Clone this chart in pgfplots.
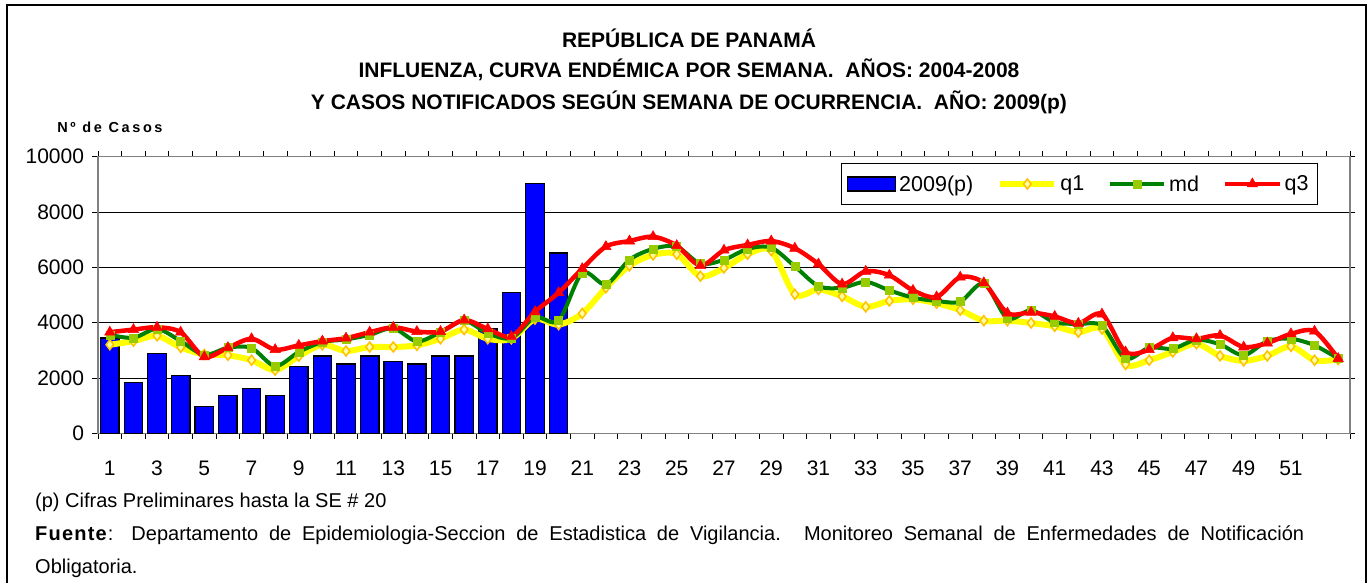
\documentclass[border=0pt]{standalone}
\usepackage{pgfplots}
\pgfplotsset{compat=1.18}
\usepackage{pgfplotstable}
\usepackage{fontspec}
\setmainfont{Liberation Sans}
\definecolor{barblue}{HTML}{0000FF}
\definecolor{q1yel}{HTML}{FFFF00}
\definecolor{q1edge}{HTML}{FFC000}
\definecolor{q1fill}{HTML}{FFFFA0}
\definecolor{mdgreen}{HTML}{008000}
\definecolor{mdmark}{HTML}{99CC00}
\definecolor{q3red}{HTML}{FF0000}
\definecolor{axgrey}{HTML}{808080}

\pgfplotsset{
  barlegend/.style={legend image code/.code={\draw[##1] (0bp,-7bp) rectangle (48bp,7bp);}},
  linelegend/.style={legend image code/.code={\draw[mark repeat=2,mark phase=2,##1] plot coordinates {(0bp,0bp) (27bp,0bp) (54bp,0bp)};}},
}

\pgfplotstableread{
w v
1 3440
2 1845
3 2893
4 2083
5 964
6 1357
7 1607
8 1357
9 2405
10 2798
11 2506
12 2798
13 2590
14 2506
15 2798
16 2798
17 3789
18 5084
19 9029
20 6523
}\bars

\pgfplotstableread{
w q1 md q3
1 3202 3560 3655
2 3333 3452 3750
3 3524 3774 3833
4 3107 3333 3655
5 2850 2833 2762
6 2821 3095 3095
7 2643 3083 3417
8 2286 2429 3024
9 2786 2940 3179
10 3202 3298 3333
11 2976 3393 3440
12 3119 3560 3655
13 3119 3798 3833
14 3179 3321 3679
15 3417 3655 3679
16 3750 4071 4095
17 3417 3619 3774
18 3417 3440 3500
19 4131 4190 4393
20 3929 4071 5083
21 4333 5798 5952
22 5262 5381 6750
23 6060 6274 6952
24 6452 6667 7107
25 6476 6750 6786
26 5679 6131 6060
27 5976 6274 6619
28 6476 6667 6810
29 6607 6714 6952
30 5024 6036 6690
31 5202 5321 6119
32 4952 5262 5393
33 4571 5476 5857
34 4786 5167 5714
35 4845 4905 5167
36 4702 4786 4929
37 4452 4762 5643
38 4071 5417 5440
39 4071 4155 4345
40 3988 4452 4369
41 3869 4012 4226
42 3655 3952 3976
43 3774 3893 4310
44 2488 2702 2940
45 2643 3095 3024
46 2940 3060 3452
47 3238 3381 3417
48 2798 3214 3536
49 2619 2821 3119
50 2798 3333 3262
51 3143 3417 3595
52 2643 3179 3690
53 2667 2702 2702
}\lines

\begin{document}
\begin{tikzpicture}
\useasboundingbox (0,0) rectangle (1369bp,583bp);
\draw[line width=1.2bp] (7bp,-10bp) rectangle (1366bp,578bp);
% titles
\node[font=\fontsize{21bp}{25bp}\selectfont\bfseries] at (689bp,545bp) {REPÚBLICA DE PANAMÁ};
\node[font=\fontsize{21bp}{25bp}\selectfont\bfseries] at (689bp,513bp) {INFLUENZA, CURVA ENDÉMICA POR SEMANA.\ \ AÑOS: 2004-2008};
\node[font=\fontsize{21bp}{25bp}\selectfont\bfseries] at (689bp,481bp) {Y CASOS NOTIFICADOS SEGÚN SEMANA DE OCURRENCIA.\ \ AÑO: 2009(p)};
\node[font=\fontsize{14.5bp}{17bp}\selectfont\bfseries\addfontfeature{LetterSpace=18}] at (110bp,456bp) {Nº de Casos};
% footnotes
\node[anchor=west,inner sep=0pt,font=\fontsize{20bp}{24bp}\selectfont] at (35bp,81bp) {(p) Cifras Preliminares hasta la SE \# 20};
\node[anchor=west,inner sep=0pt,font=\fontsize{20bp}{24bp}\selectfont] at (35bp,48bp) {\makebox[1269bp][s]{\textbf{\addfontfeature{LetterSpace=6}Fuente}: Departamento de Epidemiologia-Seccion de Estadistica de Vigilancia. Monitoreo Semanal de Enfermedades de Notificación}};
\node[anchor=west,inner sep=0pt,font=\fontsize{20bp}{24bp}\selectfont] at (35bp,15bp) {Obligatoria.};

\begin{axis}[
  at={(98bp,149.7bp)}, anchor=south west,
  scale only axis, width=1252bp, height=276.6bp,
  xmin=0.5, xmax=53.5, ymin=0, ymax=10000,
  xtick={0.5,1.5,...,53.5},
  xticklabel={\relax},
  extra x ticks={1,3,...,51},
  extra x tick labels={1,3,5,7,9,11,13,15,17,19,21,23,25,27,29,31,33,35,37,39,41,43,45,47,49,51},
  extra x tick style={major tick length=0pt},
  ytick={0,2000,...,10000},
  tick align=outside,
  major tick length=5.5bp,
  tick style={black, line width=0.8bp},
  ymajorgrids,
  grid style={black, line width=0.8bp},
  axis line style={axgrey, line width=1.5bp},
  scaled y ticks=false,
  /pgf/number format/set thousands separator={},
  /pgf/number format/assume math mode=true,
  tick label style={font=\fontsize{21bp}{25bp}\selectfont},
  xticklabel style={yshift=-24bp},
  yticklabel style={xshift=-5bp},
  legend columns=4,
  legend style={at={(0.9744,0.977)}, anchor=north east, draw=black, line width=0.8bp,
    font=\fontsize{21.5bp}{25bp}\selectfont, inner xsep=6bp, inner ysep=10bp,
    nodes={inner xsep=3bp},
    /tikz/every even column/.append style={column sep=21bp}},
]
\addplot[ybar, bar width=0.78, fill=barblue, draw=black, line width=1.3bp, barlegend]
  table[x=w,y=v] {\bars};
\addlegendentry{2009(p)}
\addplot[smooth, q1yel, line width=6bp, mark=diamond*, mark size=5bp,
  mark options={fill=q1fill, draw=q1edge, line width=1.5bp}, linelegend]
  table[x=w,y=q1] {\lines};
\addlegendentry{q1}
\addplot[smooth, mdgreen, line width=4bp, mark=square*, mark size=4bp,
  mark options={fill=mdmark, draw=mdmark, line width=0.5bp}, linelegend]
  table[x=w,y=md] {\lines};
\addlegendentry{md}
\addplot[smooth, q3red, line width=4.5bp, mark=triangle*, mark size=6bp,
  mark options={fill=q3red, draw=q3red, line width=0.5bp}, linelegend]
  table[x=w,y=q3] {\lines};
\addlegendentry{q3}
\end{axis}
\end{tikzpicture}
\end{document}
